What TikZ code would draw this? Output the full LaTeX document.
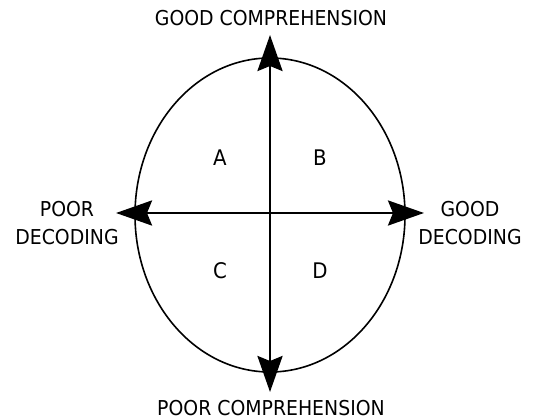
\documentclass[tikz,border=0pt]{standalone}
\usepackage{fontspec}
\setmainfont{DejaVu Sans}[FakeStretch=0.92]
\usepackage{tikz}
\usetikzlibrary{arrows.meta}

\begin{document}
\begin{tikzpicture}[x=1pt,y=-1pt,
		axis/.style={line width=2.8pt,-{Stealth[length=36pt,width=25pt,inset=5pt]}},
		lbl/.style={font=\fontsize{20.5}{28}\selectfont,align=center,inner sep=0pt},
		quad/.style={font=\fontsize{21.5}{24}\selectfont,inner sep=0pt}]
	
	\useasboundingbox (0,0) rectangle (534,419);
	
	% outline
	\draw[line width=1.6pt] (270,215) ellipse [x radius=135, y radius=157];
	
	% axis ends
	\coordinate (mid) at (270,213);
	\coordinate (top) at (270,35);
	\coordinate (bot) at (270,392);
	\coordinate (lft) at (116,213);
	\coordinate (rgt) at (424,213);
	
	\draw[axis] (mid) -- (top);
	\draw[axis] (mid) -- (bot);
	\draw[axis] (mid) -- (lft);
	\draw[axis] (mid) -- (rgt);
	
	% axis labels
	\node[lbl,anchor=base] (gc) at (271,26) {GOOD COMPREHENSION};
	\node[lbl,anchor=base] (pc) at (271,415) {POOR COMPREHENSION};
	\node[lbl,anchor=base] (pd) at (67,244) {POOR\\DECODING};
	\node[lbl,anchor=base] (gd) at (470,244) {GOOD\\DECODING};
	
	% quadrants
	\node[quad] (qa) at (220,158) {A};
	\node[quad] (qb) at (320,158) {B};
	\node[quad] (qc) at (220,271) {C};
	\node[quad] (qd) at (320,271) {D};
	
\end{tikzpicture}
\end{document}
